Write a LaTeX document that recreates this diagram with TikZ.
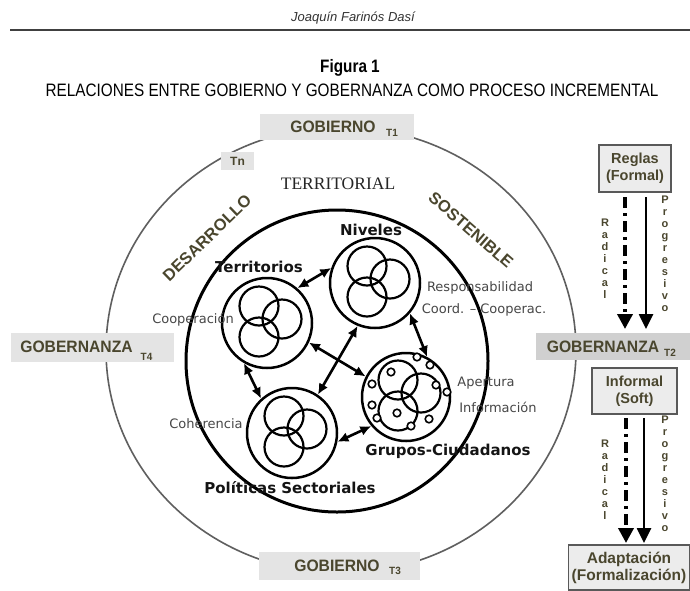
\documentclass[tikz,border=0pt]{standalone}
\usepackage{fontspec}
\setmainfont{Liberation Sans}
\newfontfamily\arialf{Liberation Sans}
\newfontfamily\arialn[FakeStretch=0.85]{Liberation Sans}
\newfontfamily\arialb[FakeStretch=0.95]{Liberation Sans}
\newfontfamily\verd{DejaVu Sans}
\newfontfamily\timesf{Liberation Serif}
\usetikzlibrary{arrows.meta}
\definecolor{olivetxt}{RGB}{74,70,46}
\definecolor{boxgray}{RGB}{228,228,228}
\definecolor{boxdark}{RGB}{208,208,208}
\definecolor{boxlight}{RGB}{236,236,236}
\definecolor{ringgray}{RGB}{95,95,95}
\begin{document}
\begin{tikzpicture}[x=1pt,y=-1pt,
  sub/.style={circle,draw=black,line width=2.5pt,minimum size=90pt,inner sep=0pt},
  darr/.style={{Latex[length=11pt,width=10pt]}-{Latex[length=11pt,width=10pt]},line width=2.6pt},
  blab/.style={font=\verd\bfseries\fontsize{15}{17}\selectfont,text=black!92,inner sep=0pt},
  rlab/.style={font=\verd\fontsize{13}{15}\selectfont,text=black!72,inner sep=0pt},
  gbox/.style={fill=boxgray,inner sep=0pt},
  gword/.style={font=\arialb\bfseries\fontsize{16.5}{18}\selectfont,text=olivetxt,inner sep=0pt},
  gsub/.style={font=\arialb\bfseries\fontsize{10.5}{11}\selectfont,text=olivetxt,inner sep=0pt},
  rbox/.style={draw=black!65,line width=1.3pt,fill=boxlight,align=center,font=\arialf\bfseries\fontsize{14.5}{17}\selectfont,text=olivetxt,inner sep=0pt},
  vlet/.style={align=center,font=\arialf\bfseries\fontsize{11}{12}\selectfont,text=olivetxt,inner sep=0pt},
  dasharr/.style={line width=3.6pt,dash pattern=on 11pt off 5pt on 3pt off 5pt,-{Triangle[length=15pt,width=15pt]}},
  solarr/.style={line width=2.6pt,-{Triangle[length=15pt,width=14pt]}},
  triple/.pic={
    \draw[line width=2.2pt] (-8,-17) circle[radius=19.5];
    \draw[line width=2.2pt] (15,-4) circle[radius=19.5];
    \draw[line width=2.2pt] (-8,14) circle[radius=19.5];
  }
]
\useasboundingbox[fill=white] (0,0) rectangle (690,590);

% header
\node[font=\arialf\itshape\fontsize{13}{15}\selectfont,text=black!80] (hdr) at (353,18) {Joaquín Farinós Dasí};
\coordinate (rl) at (10,30);
\coordinate (rr) at (690,30);
\draw[line width=1.3pt,black!75] (rl) -- (rr);
\node[font=\arialn\bfseries\fontsize{18}{20}\selectfont] (fig) at (350,68) {Figura 1};
\node[font=\arialn\fontsize{18}{20}\selectfont] (title) at (352,90) {RELACIONES ENTRE GOBIERNO Y GOBERNANZA COMO PROCESO INCREMENTAL};

% outer ring
\draw[ringgray,line width=1.6pt] (341,350) ellipse [x radius=235, y radius=223];

% boxes on the ring
\node[gbox,minimum width=154pt,minimum height=26pt] (g1) at (337,127) {};
\node[gword] (g1w) at (333,127) {GOBIERNO};
\node[gsub] (g1s) at (392,133) {T1};
\node[gbox,minimum width=161pt,minimum height=28pt] (g3) at (339.5,566) {};
\node[gword] (g3w) at (337,566) {GOBIERNO};
\node[gsub] (g3s) at (395,571) {T3};
\node[gbox,minimum width=163pt,minimum height=29pt] (g4) at (92.5,347.5) {};
\node[gword] (g4w) at (76.5,347) {GOBERNANZA};
\node[gsub] (g4s) at (146.5,357) {T4};
\node[fill=boxdark,inner sep=0pt,minimum width=154pt,minimum height=27pt] (g2) at (613,346.5) {};
\node[gword] (g2w) at (603,347) {GOBERNANZA};
\node[gsub] (g2s) at (670,353) {T2};
\node[gbox,minimum width=33pt,minimum height=18pt] (tn) at (237.5,161) {};
\node[gsub,font=\arialf\bfseries\fontsize{12}{13}\selectfont] (tnw) at (237.5,161) {Tn};

% ring words
\node[font=\timesf\fontsize{17.5}{19}\selectfont,text=black!85] (territ) at (338,184) {TERRITORIAL};
\node[font=\arialf\bfseries\fontsize{16.5}{18}\selectfont,text=olivetxt,rotate=44] (desa) at (207,238) {DESARROLLO};
\node[font=\arialf\bfseries\fontsize{16.5}{18}\selectfont,text=olivetxt,rotate=-41] (sost) at (471,230) {SOSTENIBLE};

% big inner circle
\node[circle,draw=black,line width=3pt,minimum size=302pt,inner sep=0pt] (big) at (337,361) {};

% sub circles
\node[sub] (terr) at (267,323) {};
\node[sub] (niv) at (375,283) {};
\node[sub] (pol) at (292,433) {};
\node[sub,minimum size=88pt] (grp) at (406,397) {};
\pic at (terr) {triple};
\pic at (niv) {triple};
\pic at (pol) {triple};
\pic at (grp) {triple};
\foreach \px/\py in {417/357,430/365,391/372,436/385,447/392,372/384,372/405,397/413,429/419,377/418,411/426}
  \draw[line width=1.6pt,fill=white] (\px,\py) circle[radius=3.8];

% arrows between sub circles
\draw[darr] (terr.49) -- (niv.161);
\draw[darr] (terr.240) -- (pol.132);
\draw[darr] (terr.-25) -- (grp.153);
\draw[darr] (pol.56) -- (niv.-112);
\draw[darr] (niv.-41) -- (grp.62);
\draw[darr] (pol.-11) -- (grp.220);

% labels
\node[blab] (lterr) at (259,267) {Territorios};
\node[blab] (lniv) at (371,230) {Niveles};
\node[blab] (lpol) at (290,488) {Políticas Sectoriales};
\node[blab] (lgrp) at (448,451) {Grupos-Ciudadanos};
\node[rlab] (lcoop) at (193,320) {Cooperación};
\node[rlab] (lresp) at (480,288) {Responsabilidad};
\node[rlab] (lcoord) at (484,310) {Coord. – Cooperac.};
\node[rlab] (lape) at (486,383) {Apertura};
\node[rlab] (linf) at (498,407) {Información};
\node[rlab] (lcoh) at (206,424) {Coherencia};

% right column
\node[rbox,minimum width=72pt,minimum height=47pt] (reg) at (635,168.5) {Reglas\\(Formal)};
\node[rbox,minimum width=85pt,minimum height=46pt] (inf) at (634.5,391) {Informal\\(Soft)};
\node[rbox,minimum width=121pt,minimum height=45pt,font=\arialf\bfseries\fontsize{15.5}{17}\selectfont] (adap) at (629,567.5) {Adaptación\\(Formalización)};

\coordinate (d1s) at (625,197);
\coordinate (d1e) at (625,329);
\coordinate (s1s) at (646,197);
\coordinate (s1e) at (646,329);
\coordinate (d2s) at (626,418);
\coordinate (d2e) at (626,543);
\coordinate (s2s) at (644,418);
\coordinate (s2e) at (644,543);
\draw[dasharr] (d1s) -- (d1e);
\draw[solarr] (s1s) -- (s1e);
\draw[dasharr] (d2s) -- (d2e);
\draw[solarr] (s2s) -- (s2e);

\node[vlet] (rad1) at (605,259) {R\\a\\d\\i\\c\\a\\l};
\node[vlet] (pro1) at (665,253.5) {P\\r\\o\\g\\r\\e\\s\\i\\v\\o};
\node[vlet] (rad2) at (605,479.5) {R\\a\\d\\i\\c\\a\\l};
\node[vlet] (pro2) at (665,473.5) {P\\r\\o\\g\\r\\e\\s\\i\\v\\o};
\end{tikzpicture}
\end{document}
